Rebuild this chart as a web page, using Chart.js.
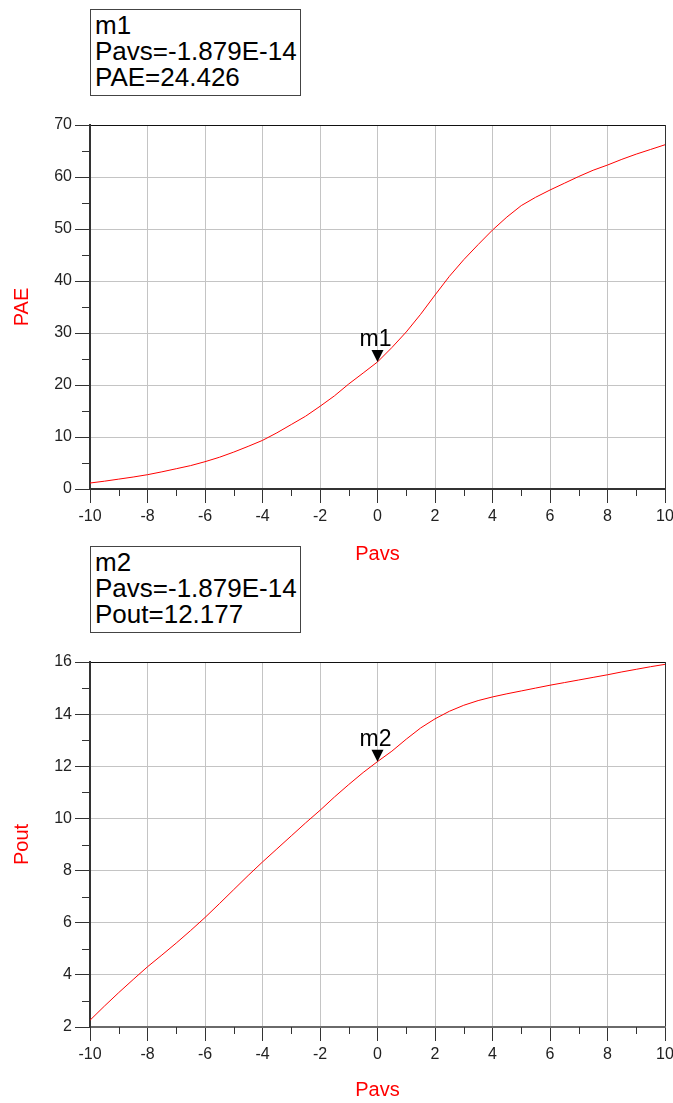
<!DOCTYPE html>
<html>
<head>
<meta charset="utf-8">
<script src="https://cdn.jsdelivr.net/npm/chart.js@4/dist/chart.umd.min.js"></script>
<style>
  html, body { margin: 0; padding: 0; background: #fff; }
  body { width: 673px; height: 1103px; position: relative; overflow: hidden; font-family: "Liberation Sans", Arial, sans-serif; }
  canvas { position: absolute; left: 0; }
  .mbox { position: absolute; left: 90px; width: 205px; height: 83px; border: 1px solid #444; background: #fff;
          font-size: 26px; line-height: 26px; color: #000; padding: 2px 0 0 4px; box-sizing: content-box; white-space: nowrap; }
</style>
</head>
<body>
<canvas id="c1" width="700" height="575" style="top:0"></canvas>
<canvas id="c2" width="700" height="528" style="top:575px"></canvas>
<div class="mbox" id="box1" style="top:9px">m1<br>Pavs=-1.879E-14<br>PAE=24.426</div>
<div class="mbox" id="box2" style="top:546px">m2<br>Pavs=-1.879E-14<br>Pout=12.177</div>
<script>
// ---- data ----
const pavs = [-10,-9.5,-9,-8.5,-8,-7.5,-7,-6.5,-6,-5.5,-5,-4.5,-4,-3.5,-3,-2.5,-2,-1.5,-1,-0.5,0,
              0.5,1,1.5,2,2.5,3,3.5,4,4.5,5,5.5,6,6.5,7,7.5,8,8.5,9,9.5,10];
const pae = [1.15,1.5,1.9,2.3,2.75,3.3,3.9,4.5,5.25,6.1,7.1,8.2,9.35,10.8,12.4,14.0,15.9,17.9,20.2,22.3,24.43,
             27.2,30.2,33.6,37.3,40.9,44.1,47.0,49.8,52.3,54.5,56.1,57.5,58.8,60.1,61.3,62.3,63.4,64.4,65.3,66.2];
const pout = [2.26,2.8,3.32,3.82,4.31,4.76,5.22,5.7,6.2,6.73,7.27,7.81,8.33,8.83,9.33,9.83,10.31,10.82,11.3,11.76,12.18,
              12.58,13.04,13.47,13.82,14.11,14.34,14.52,14.66,14.78,14.89,15.0,15.11,15.21,15.31,15.41,15.51,15.62,15.72,15.82,15.91];
const xTicks = [-10,-8,-6,-4,-2,0,2,4,6,8,10];
const paeTicks = [0,10,20,30,40,50,60,70];
const poutTicks = [2,4,6,8,10,12,14,16];
const marker1 = {name: 'm1', x: -1.879e-14, y: 24.426};
const marker2 = {name: 'm2', x: -1.879e-14, y: 12.177};

const FONT = '"Liberation Sans", Arial, sans-serif';
const DARK = '#333';
const GRID = '#c4c4c4';

const extrasPlugin = {
  id: 'extras',
  afterDraw(chart, args, opts) {
    const ctx = chart.ctx;
    const xs = chart.scales.x, ys = chart.scales.y;
    const area = chart.chartArea;
    ctx.save();
    ctx.strokeStyle = DARK;
    ctx.lineWidth = 1;
    for (let v = xs.min; v <= xs.max + 1e-9; v += opts.xMinor) {
      if (Math.abs(v / opts.xMajor - Math.round(v / opts.xMajor)) < 1e-6) continue;
      const px = Math.round(xs.getPixelForValue(v)) + 0.5;
      ctx.beginPath(); ctx.moveTo(px, area.bottom); ctx.lineTo(px, area.bottom + 7); ctx.stroke();
    }
    for (let v = ys.min; v <= ys.max + 1e-9; v += opts.yMinor) {
      if (Math.abs((v - ys.min) / opts.yMajor - Math.round((v - ys.min) / opts.yMajor)) < 1e-6) continue;
      const py = Math.round(ys.getPixelForValue(v)) + 0.5;
      ctx.beginPath(); ctx.moveTo(area.left - 8, py); ctx.lineTo(area.left, py); ctx.stroke();
    }
    const m = opts.marker;
    const mx = xs.getPixelForValue(m.x), my = ys.getPixelForValue(m.y);
    ctx.fillStyle = '#000';
    ctx.beginPath();
    ctx.moveTo(mx, my); ctx.lineTo(mx - 6, my - 12); ctx.lineTo(mx + 6, my - 12); ctx.closePath(); ctx.fill();
    ctx.font = '23px ' + FONT;
    ctx.textAlign = 'center';
    ctx.textBaseline = 'alphabetic';
    ctx.fillText(m.name, mx - 2, my - 16);
    ctx.restore();
  }
};

function makeChart(id, yData, yTicks, yTitle, marker, yMinor, padTop, xAxisH, titlePadBottom, xBorderColor) {
  const yMin = yTicks[0], yMax = yTicks[yTicks.length - 1];
  const yStep = yTicks[1] - yTicks[0];
  return new Chart(document.getElementById(id), {
    type: 'line',
    data: {
      datasets: [{
        data: pavs.map((x, i) => ({x: x, y: yData[i]})),
        borderColor: '#ff0000',
        borderWidth: 1,
        pointRadius: 0,
        tension: 0,
        fill: false
      }]
    },
    options: {
      responsive: false,
      animation: false,
      events: [],
      layout: { padding: { top: padTop, right: 35, left: 0, bottom: 0 } },
      plugins: {
        legend: { display: false },
        tooltip: { enabled: false },
        extras: { xMinor: 1, xMajor: 2, yMinor: yMinor, yMajor: yStep, marker: marker }
      },
      scales: {
        x: {
          type: 'linear', position: 'bottom', min: -10, max: 10,
          afterBuildTicks: (s) => { s.ticks = xTicks.map(v => ({value: v})); },
          afterFit: (s) => { s.height = xAxisH; },
          ticks: { font: { family: FONT, size: 16 }, color: '#222', padding: 4, maxRotation: 0, autoSkip: false },
          grid: {
            color: (c) => (c.tick && c.tick.value === 10) ? DARK : GRID,
            lineWidth: 1, tickLength: 14, tickColor: DARK, drawTicks: true
          },
          border: { display: true, color: xBorderColor, width: 2 },
          title: { display: true, text: 'Pavs', color: '#ff0000', font: { family: FONT, size: 20 }, padding: { top: 0, bottom: titlePadBottom } }
        },
        y: {
          type: 'linear', position: 'left', min: yMin, max: yMax,
          afterBuildTicks: (s) => { s.ticks = yTicks.map(v => ({value: v})); },
          afterFit: (s) => { s.width = 90; },
          ticks: { font: { family: FONT, size: 16 }, color: '#222', padding: 3, autoSkip: false },
          grid: {
            color: (c) => (c.tick && c.tick.value === yMax) ? '#111' : GRID,
            lineWidth: 1, tickLength: 15, tickColor: DARK, drawTicks: true
          },
          border: { display: true, color: DARK, width: 2 },
          title: { display: true, text: yTitle, color: '#ff0000', font: { family: FONT, size: 20 }, padding: { top: 10, bottom: 0 } }
        }
      }
    },
    plugins: [extrasPlugin]
  });
}

makeChart('c1', pae, paeTicks, 'PAE', marker1, 5, 125, 86, 9, '#333');
makeChart('c2', pout, poutTicks, 'Pout', marker2, 1, 87, 76, 1, '#6a6a6a');
</script>
</body>
</html>
